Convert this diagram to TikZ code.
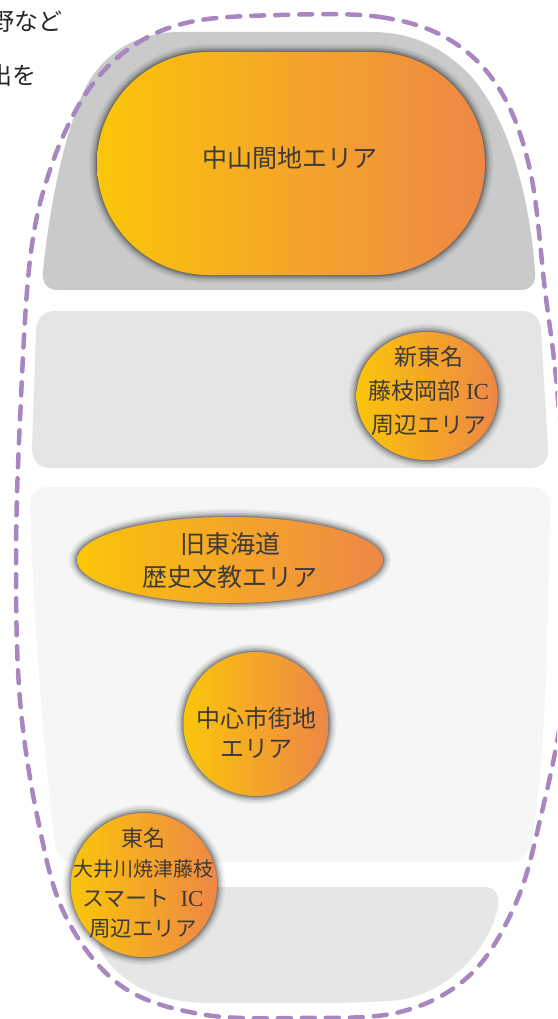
\documentclass[tikz,border=0pt]{standalone}
\usepackage{fontspec}
\newfontfamily\jpfont{Noto Sans CJK JP}
\newfontfamily\latinserif{Liberation Serif}
\usetikzlibrary{shapes.geometric,calc}
\definecolor{txt}{HTML}{3E3A39}
\definecolor{orL}{RGB}{250,197,10}
\definecolor{orR}{RGB}{238,135,70}
\definecolor{dashc}{HTML}{A886C0}
\definecolor{regA}{HTML}{C9CACA}
\definecolor{regB}{HTML}{E5E5E5}
\definecolor{regC}{HTML}{F5F6F6}
\definecolor{regD}{HTML}{E6E6E6}
\tikzset{
  glow/.style={
    preaction={draw=black,opacity=.05,line width=16pt},
    preaction={draw=black,opacity=.08,line width=12pt},
    preaction={draw=black,opacity=.11,line width=8pt},
    preaction={draw=black,opacity=.15,line width=5pt},
    preaction={draw=black,opacity=.20,line width=2pt}},
  orb/.style={ellipse,inner sep=0pt,left color=orL,right color=orR,glow},
  stadium/.style={rectangle,rounded corners=111.5pt,inner sep=0pt,
    minimum width=388pt,minimum height=223pt,left color=orL,right color=orR,glow},
  lbl/.style={font=\jpfont\fontsize{23}{34}\selectfont,text=txt,align=center,inner sep=0pt},
  bodytext/.style={font=\jpfont\fontsize{24}{24}\selectfont,text=black!85,inner sep=0pt,anchor=east},
  outline/.style={draw=dashc,line width=4.5pt,dash pattern=on 13pt off 11pt,line cap=round}
}
\begin{document}
\begin{tikzpicture}[x=1pt,y=-1pt]
\useasboundingbox (0,0) rectangle (557,1019);
\clip (0,0) rectangle (557,1019);

% body text (cut at left edge, as in the reference)
\node[bodytext] (t1) at (63,22) {分野など};
\node[bodytext] (t2) at (37,75) {創出を};

% background regions
\fill[regA] (58,290) -- (520,290) .. controls (532,290) and (536,282) .. (535,272)
  .. controls (530,200) and (510,120) .. (470,75)
  .. controls (440,45) and (410,32) .. (370,32) -- (180,32)
  .. controls (130,32) and (95,60) .. (80,100)
  .. controls (60,150) and (48,220) .. (43,272)
  .. controls (42,284) and (48,290) .. (58,290) -- cycle;
\fill[regB] (55,311) -- (522,311) .. controls (533,311) and (540,318) .. (541,330)
  -- (548,448) .. controls (549,460) and (543,468) .. (530,468) -- (50,468)
  .. controls (38,468) and (32,460) .. (32,448) -- (36,330)
  .. controls (37,318) and (44,311) .. (55,311) -- cycle;
\fill[regC] (48,487) -- (532,487) .. controls (545,487) and (551,495) .. (550,508)
  -- (547,650) .. controls (545,720) and (540,790) .. (533,835)
  .. controls (530,852) and (525,862) .. (510,862) -- (75,862)
  .. controls (62,862) and (57,855) .. (55,845)
  .. controls (45,760) and (35,650) .. (30,505)
  .. controls (30,494) and (36,487) .. (48,487) -- cycle;
\fill[regD] (110,887) -- (485,887) .. controls (495,887) and (500,895) .. (498,907)
  .. controls (490,945) and (455,990) .. (400,1000)
  .. controls (370,1003) and (330,1003) .. (300,1003) -- (210,1003)
  .. controls (160,1003) and (120,985) .. (100,950) -- (92,905)
  .. controls (90,893) and (98,887) .. (110,887) -- cycle;

% dashed outline
\draw[outline] plot[smooth cycle,tension=0.6] coordinates {
  (280,15) (380,17) (450,40) (500,90) (530,170) (545,290) (558,400) (566,560)
  (563,700) (540,820) (515,905) (470,975) (400,1012) (300,1018) (200,1014)
  (120,985) (65,915) (38,820) (20,700) (16,560) (20,420) (30,260) (50,170)
  (85,95) (130,48) (190,22)};

% areas
\node[stadium] (mt) at (291,163.5) {};
\node[lbl,font=\jpfont\fontsize{25}{34}\selectfont] (mtl) at (290,158) {中山間地エリア};

\node[orb,minimum width=141pt,minimum height=128pt] (sn) at (427,396) {};
\node[lbl] (snl) at (429,391) {新東名\\藤枝岡部 {\latinserif IC}\\周辺エリア};

\node[orb,minimum width=306pt,minimum height=86pt] (kt) at (230,560) {};
\node[lbl,font=\jpfont\fontsize{25}{33}\selectfont] (ktl) at (230,561) {旧東海道\\歴史文教エリア};

\node[orb,minimum width=145pt,minimum height=144pt] (cc) at (256,724) {};
\node[lbl,font=\jpfont\fontsize{24}{30}\selectfont] (ccl) at (256,733) {中心市街地\\エリア};

\node[orb,minimum width=146pt,minimum height=144pt] (tm) at (144,885) {};
\node[lbl,font=\jpfont\fontsize{22}{30}\selectfont] (tml) at (143,883)
  {東名\\{\fontsize{20}{30}\selectfont 大井川焼津藤枝}\\スマート {\latinserif\fontsize{23}{30}\selectfont\ IC}\\{\fontsize{21.5}{30}\selectfont 周辺エリア}};
\end{tikzpicture}
\end{document}
